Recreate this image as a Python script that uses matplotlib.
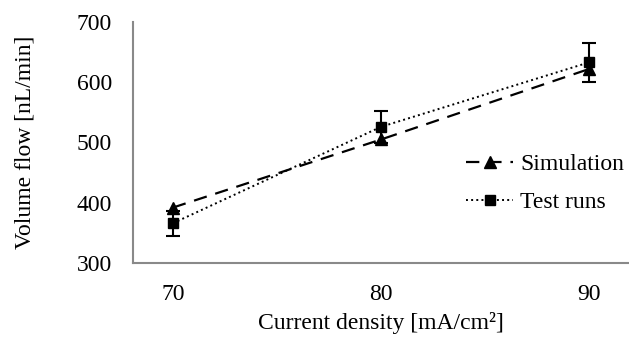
import numpy as np
import matplotlib
matplotlib.use('Agg')
import matplotlib.pyplot as plt

plt.rcParams['font.family'] = ['Liberation Serif', 'DejaVu Serif']

# data
current = [70, 80, 90]
simulation = [392, 505, 622]
test_runs = [366, 526, 633]
test_err = [21, 26, 32]

fig = plt.figure(figsize=(6.29, 3.52), dpi=100)
ax = fig.add_axes([133/629, 89/352, 496/629, 241/352])

ax.plot(current, simulation, color='black', linestyle=(0, (6, 4)), linewidth=1.6,
        marker='^', markersize=8, label='Simulation')
ax.errorbar(current, test_runs, yerr=test_err, color='black', linestyle='none',
            capsize=5, elinewidth=1.5, capthick=1.5)
ax.plot(current, test_runs, color='black', linestyle=':', linewidth=1.4,
        marker='s', markersize=7, label='Test runs')

ax.set_xlim(68.08, 91.92)
ax.set_ylim(300, 700)
ax.set_xticks(current)
ax.set_yticks([300, 400, 500, 600, 700])
ax.tick_params(length=0, labelsize=17, pad=15)
ax.tick_params(axis='y', pad=15)
for s in ['top', 'right']:
    ax.spines[s].set_visible(False)
for s in ['left', 'bottom']:
    ax.spines[s].set_color('#898989')
    ax.spines[s].set_linewidth(1.5)

ax.set_xlabel('Current density [mA/cm²]', fontsize=17, labelpad=5)
ax.set_ylabel('Volume flow [nL/min]', fontsize=17, labelpad=30)

leg = ax.legend(loc='center', bbox_to_anchor=(545/629, (352-183.5)/352),
                bbox_transform=fig.transFigure, frameon=False, fontsize=17,
                handlelength=2.0, labelspacing=0.7, handletextpad=0.3)

plt.savefig('out.png', dpi=100)
